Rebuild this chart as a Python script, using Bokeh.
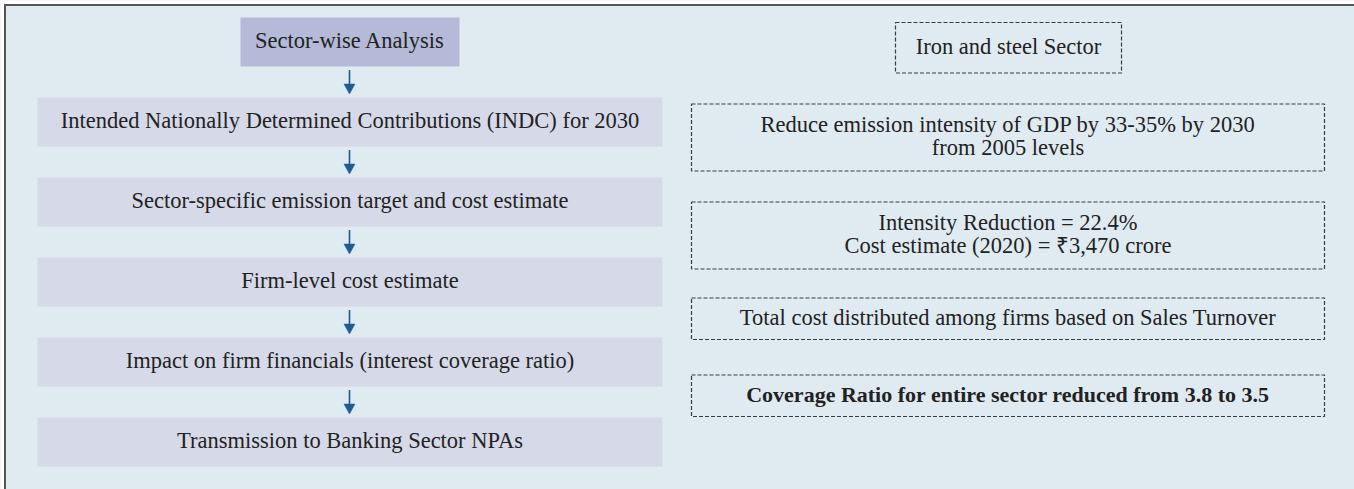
from bokeh.plotting import figure
from bokeh.models import Range1d, ColumnDataSource
from bokeh.core.properties import value
from bokeh.embed import file_html
from bokeh.resources import INLINE

# ---------------- data ----------------
flow_steps = [
    "Sector-wise Analysis",
    "Intended Nationally Determined Contributions (INDC) for 2030",
    "Sector-specific emission target and cost estimate",
    "Firm-level cost estimate",
    "Impact on firm financials (interest coverage ratio)",
    "Transmission to Banking Sector NPAs",
]
sector_notes = [
    ["Iron and steel Sector"],
    ["Reduce emission intensity of GDP by 33-35% by 2030", "from 2005 levels"],
    ["Intensity Reduction = 22.4%", "Cost estimate (2020) = \u20b93,470 crore"],
    ["Total cost distributed among firms based on Sales Turnover"],
    ["Coverage Ratio for entire sector reduced from 3.8 to 3.5"],
]
note_bold = [False, False, False, False, True]

# ---------------- layout (pixels) ----------------
W, H = 1354, 489
BG = "#E0EBF1"
FONT = value("Liberation Serif")
TXT = "#222222"

frame_off = 4.5
left_top0, left_step, left_h = 17.0, 80.0, 49.0
left_x = (37.0, 662.0)
head_x = (240.0, 459.0)
arrow_x = 349.0
text_dy = -1.5

# right column boxes: (left, right, top, bottom)
right_boxes = [
    (895.0, 1121.0, 22.0, 72.5),
    (691.0, 1324.0, 103.5, 170.5),
    (691.0, 1324.0, 201.5, 268.5),
    (691.0, 1324.0, 297.5, 339.0),
    (691.0, 1324.0, 374.5, 416.0),
]
line_gap = 22.5

p = figure(width=W, height=H,
           x_range=Range1d(0, W), y_range=Range1d(H, 0),
           output_backend="svg", toolbar_location=None, min_border=0,
           x_axis_type=None, y_axis_type=None,
           background_fill_color=BG, border_fill_color="white",
           outline_line_color=None)
p.grid.visible = False

# white strip outside the frame, then frame edges (top and left)
p.quad(left=[0, 0], right=[W, frame_off - 1], top=[0, 0], bottom=[frame_off - 1, H],
       fill_color="white", line_color=None)
p.segment(x0=[frame_off - 1, frame_off], y0=[frame_off, frame_off - 1],
          x1=[W, frame_off], y1=[frame_off, H],
          line_color="#555555", line_width=2)

# left flow boxes
n = len(flow_steps)
tops = [left_top0 + i * left_step for i in range(n)]
bots = [t + left_h for t in tops]
lefts = [head_x[0]] + [left_x[0]] * (n - 1)
rights = [head_x[1]] + [left_x[1]] * (n - 1)
fills = ["#B4BAD7"] + ["#D6DAE8"] * (n - 1)
p.quad(left=lefts, right=rights, top=tops, bottom=bots, fill_color=fills, line_color=None)

src = ColumnDataSource(dict(x=[(l + r) / 2 for l, r in zip(lefts, rights)],
                            y=[(t + b) / 2 + text_dy for t, b in zip(tops, bots)],
                            t=flow_steps))
p.text(x="x", y="y", text="t", source=src, text_align="center", text_baseline="middle",
       text_font=FONT, text_font_size="22.5px", text_color=TXT)

# arrows between left boxes
ARROW = "#1D5A97"
sx, sy0, sy1, hx, hy = [], [], [], [], []
for i in range(n - 1):
    start = bots[i] + 3.5
    tip = tops[i + 1] - 3.5
    sx.append(arrow_x)
    sy0.append(start)
    sy1.append(tip - 8)
    hx.append([arrow_x - 5.5, arrow_x + 5.5, arrow_x])
    hy.append([tip - 10, tip - 10, tip])
p.segment(x0=sx, y0=sy0, x1=sx, y1=sy1, line_color=ARROW, line_width=1.6)
p.patches(xs=hx, ys=hy, fill_color=ARROW, line_color=ARROW, line_width=0.5)

# right dashed boxes
p.quad(left=[b[0] for b in right_boxes], right=[b[1] for b in right_boxes],
       top=[b[2] for b in right_boxes], bottom=[b[3] for b in right_boxes],
       fill_color=None, line_color="#3A3A3A", line_width=1.2, line_dash="4 2")

for (l, r, t, b), lines, bold in zip(right_boxes, sector_notes, note_bold):
    cx = (l + r) / 2
    cy = (t + b) / 2 + text_dy
    k = len(lines)
    ys = [cy + (j - (k - 1) / 2) * line_gap for j in range(k)]
    p.text(x=[cx] * k, y=ys, text=lines, text_align="center", text_baseline="middle",
           text_font=FONT, text_font_size="22px" if bold else "22.5px",
           text_font_style="bold" if bold else "normal", text_color=TXT)

open("out.html", "w").write(file_html(p, INLINE))
